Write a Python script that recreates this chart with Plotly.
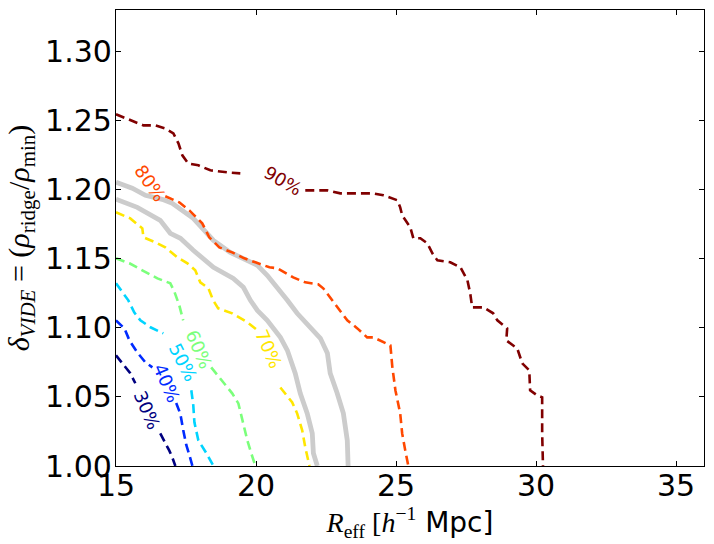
import plotly.graph_objects as go

# contour levels (fraction of voids) and their jet colours
levels = ['30%', '40%', '50%', '60%', '70%', '80%', '90%']
colors = ['#000080', '#002bff', '#00d4ff', '#7bff7b', '#ffe600', '#ff4800', '#800000']

# dashed contours, None marks the gap where the inline label sits
x30 = [15.0, 15.30, 15.51, 15.69, None, 16.58, 16.76, 16.90, 17.01, 17.12]
y30 = [1.0801, 1.0729, 1.0671, 1.0599, None, 1.0236, 1.0171, 1.0113, 1.0063, 1.0]

x40 = [15.0, 15.30, 15.48, 15.76, 16.05, 16.30, None, 17.15, 17.30, 17.40, 17.51, 17.62, 17.73]
y40 = [1.1054, 1.0996, 1.0909, 1.0822, 1.0750, 1.0714, None, 1.0456, 1.0376, 1.0260, 1.0152, 1.0080, 1.0]

x50 = [15.0, 15.23, 15.44, 15.65, 15.87, 16.23, 16.69, None, 17.69, 17.76, 17.80, 17.94, 18.23, 18.48]
y50 = [1.1322, 1.1257, 1.1199, 1.1112, 1.1054, 1.1004, 1.0960, None, 1.0548, 1.0439, 1.0316, 1.0186, 1.0092, 1.0]

x60 = [15.0, 15.48, 15.94, 16.48, 16.94, 17.08, 17.26, 17.40, None,
       18.40, 18.76, 19.15, 19.37, 19.51, 19.69, 19.83, 19.98]
y60 = [1.1503, 1.1467, 1.1416, 1.1358, 1.1322, 1.1264, 1.1163, 1.1054, None,
       1.0714, 1.0620, 1.0526, 1.0453, 1.0330, 1.0186, 1.0092, 1.0]

x70 = [15.0, 15.51, 15.94, 15.98, 16.40, 16.76, 17.19, 17.55, 17.83, 18.01, 18.30,
       18.47, 18.65, 19.15, 19.69, 20.05, None, 20.87, 21.29, 21.47, 21.65, 21.76, 21.91]
y70 = [1.1836, 1.1792, 1.1720, 1.1655, 1.1619, 1.1582, 1.1510, 1.1467, 1.1416, 1.1329, 1.1286,
       1.1199, 1.1141, 1.1105, 1.1040, 1.0982, None, 1.0568, 1.0461, 1.0381, 1.0258, 1.0135, 1.0]

x80 = [16.76, 17.26, 17.62, 18.08, 18.33, 18.69, 19.15, 19.58, 19.98, 20.48, 20.76,
       21.33, 21.76, 22.22, 22.40, 22.72, 22.94, 23.26, 23.62, 23.97, 24.19, 24.69,
       24.80, 24.87, 24.98, 25.15, 25.22, 25.33, 25.44]
y80 = [1.1952, 1.1908, 1.1850, 1.1756, 1.1655, 1.1582, 1.1546, 1.1503, 1.1474, 1.1438, 1.1431,
       1.1365, 1.1329, 1.1315, 1.1286, 1.1199, 1.1141, 1.1054, 1.0996, 1.0931, 1.0931, 1.0888,
       1.0873, 1.0714, 1.0547, 1.0380, 1.0236, 1.0113, 1.0]

x90 = [15.0, 15.98, 16.40, 16.76, 17.05, 17.23, 17.37, 17.58, 17.94, 18.37, 18.98, 19.44, None,
       21.76, 22.54, 23.01, 24.19, 24.55, 25.05, 25.15, 25.22, 25.51, 25.62, 25.87, 26.12,
       26.30, 26.48, 26.94, 27.30, 27.55, 27.65, 27.72, 28.12, 28.47, 28.62, 28.97, 28.94,
       29.33, 29.51, 29.76, 29.79, 30.04, 30.22, 30.22, 30.25]
y90 = [1.2545, 1.2465, 1.2465, 1.2443, 1.2407, 1.2335, 1.2248, 1.2190, 1.2176, 1.2140, 1.2125, 1.2118, None,
       1.1995, 1.1995, 1.1973, 1.1973, 1.1959, 1.1923, 1.1872, 1.1814, 1.1727, 1.1648, 1.1648, 1.1611,
       1.1539, 1.1488, 1.1474, 1.1438, 1.1344, 1.1250, 1.1148, 1.1148, 1.1105, 1.1054, 1.0996, 1.0909,
       1.0851, 1.0743, 1.0692, 1.0547, 1.0511, 1.0497, 1.0236, 1.0]

# the two solid grey curves
x_grey_up = [15.0, 15.58, 16.05, 16.65, 17.01, 17.30, 17.76, 18.12, 18.48, 19.08, 19.55, 20.05,
             20.40, 20.76, 21.12, 21.47, 21.94, 22.30, 22.55, 22.65, 22.90, 23.12, 23.26, 23.29]
y_grey_up = [1.2053, 1.2010, 1.1959, 1.1930, 1.1901, 1.1857, 1.1792, 1.1713, 1.1633, 1.1546, 1.1503, 1.1452,
             1.1380, 1.1293, 1.1199, 1.1105, 1.1004, 1.0924, 1.0816, 1.0671, 1.0526, 1.0381, 1.0186, 1.0]

x_grey_lo = [15.0, 15.76, 16.58, 16.94, 17.30, 17.76, 18.48, 19.19, 19.55, 19.80, 20.05,
             20.40, 20.87, 21.12, 21.40, 21.58, 21.83, 22.01, 22.05, 22.19]
y_grey_lo = [1.1930, 1.1872, 1.1778, 1.1684, 1.1648, 1.1561, 1.1438, 1.1358, 1.1293, 1.1199, 1.1126,
             1.1054, 1.0931, 1.0837, 1.0671, 1.0526, 1.0381, 1.0236, 1.0092, 1.0]

# inline label positions and angles
label_x = [16.12, 16.83, 17.40, 17.97, 20.45, 16.23, 20.95]
label_y = [1.0403, 1.0599, 1.0749, 1.0844, 1.0850, 1.2044, 1.2066]
label_angle = [67, 67, 63, 67, 66, 55, 30]

xs = [x30, x40, x50, x60, x70, x80, x90]
ys = [y30, y40, y50, y60, y70, y80, y90]

fig = go.Figure()
for gx, gy in [(x_grey_up, y_grey_up), (x_grey_lo, y_grey_lo)]:
    fig.add_trace(go.Scatter(x=gx, y=gy, mode='lines',
                             line=dict(color='#cccccc', width=4.8)))

for i in range(len(levels)):
    fig.add_trace(go.Scatter(x=xs[i], y=ys[i], mode='lines', connectgaps=False,
                             line=dict(color=colors[i], width=2.6, dash='9px,5px')))
    fig.add_annotation(x=label_x[i], y=label_y[i], text=levels[i], showarrow=False,
                       textangle=label_angle[i],
                       font=dict(family='DejaVu Sans', size=18, color=colors[i]))

axis_style = dict(showgrid=False, zeroline=False, showline=True, linecolor='black',
                  linewidth=1.2, mirror='ticks', ticks='inside', ticklen=5,
                  tickcolor='black', tickfont=dict(family='DejaVu Sans', size=30, color='black'))

fig.update_layout(
    width=714, height=544,
    margin=dict(l=116, r=10, t=10, b=78),
    plot_bgcolor='white', paper_bgcolor='white',
    showlegend=False,
    xaxis=dict(range=[15, 36], tickvals=[15, 20, 25, 30, 35], ticklabelstandoff=-7,
               title=dict(text='<i>R</i><sub>eff</sub> [<i>h</i><sup>−1</sup>'
                               '<span style="font-family:DejaVu Sans"> Mpc]</span>',
                          font=dict(family='Liberation Serif', size=28, color='black'),
                          standoff=0),
               **axis_style),
    yaxis=dict(range=[1.0, 1.33], tickvals=[1.00, 1.05, 1.10, 1.15, 1.20, 1.25, 1.30],
               ticktext=['1.00', '1.05', '1.10', '1.15', '1.20', '1.25', '1.30'],
               ticklabelstandoff=-3,
               title=dict(text='<i>δ</i><sub><i>VIDE</i></sub> = (<i>ρ</i><sub>ridge</sub>/<i>ρ</i><sub>min</sub>)',
                          font=dict(family='Liberation Serif', size=30, color='black'),
                          standoff=6),
               **axis_style),
)

# drop the browser's default page margin so the figure fills the window
fig.write_html("out.html", config={'displayModeBar': False},
               post_script="document.body.style.margin='0';")
